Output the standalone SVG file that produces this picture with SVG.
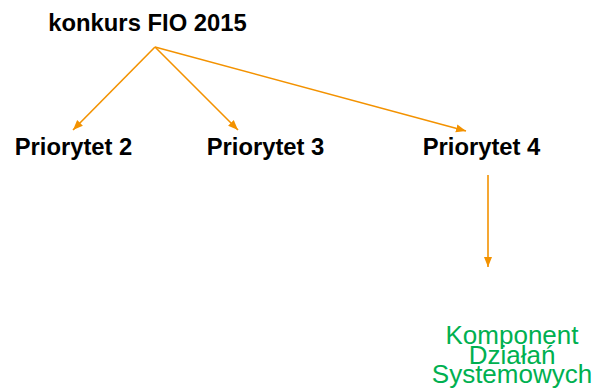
<svg xmlns="http://www.w3.org/2000/svg" width="599" height="391" viewBox="0 0 599 391">
<style>
.b{font-family:"Liberation Sans",Arial,sans-serif;font-weight:bold;font-size:23.8px;fill:#000;text-anchor:middle}
.g{font-family:"Liberation Sans",Arial,sans-serif;font-size:26px;fill:#00B050;text-anchor:middle}
.c{stroke:#F39200;stroke-width:1.6;fill:none;marker-end:url(#ah)}
</style>
<defs>
<marker id="ah" markerUnits="userSpaceOnUse" markerWidth="10" markerHeight="10" viewBox="0 0 10 10" refX="10" refY="5" orient="auto">
<path d="M0,1 L10,5 L0,9 Z" fill="#F39200"/>
</marker>
</defs>
<rect width="599" height="391" fill="#fff"/>
<g id="connectors">
<line class="c" x1="155" y1="47" x2="73" y2="130"/>
<line class="c" x1="155" y1="47" x2="238" y2="130"/>
<line class="c" x1="155" y1="47" x2="466" y2="131"/>
<line class="c" x1="488" y1="175" x2="488" y2="267"/>
</g>
<g id="root"><text class="b" x="147.5" y="31">konkurs FIO 2015</text></g>
<g id="p2"><text class="b" x="73.5" y="155">Priorytet 2</text></g>
<g id="p3"><text class="b" x="265.5" y="155">Priorytet 3</text></g>
<g id="p4"><text class="b" x="481.5" y="155">Priorytet 4</text></g>
<g id="kds"><text class="g" x="512" y="344">Komponent<tspan x="512" y="364">Działań</tspan><tspan x="512" y="383">Systemowych</tspan></text></g>
</svg>
